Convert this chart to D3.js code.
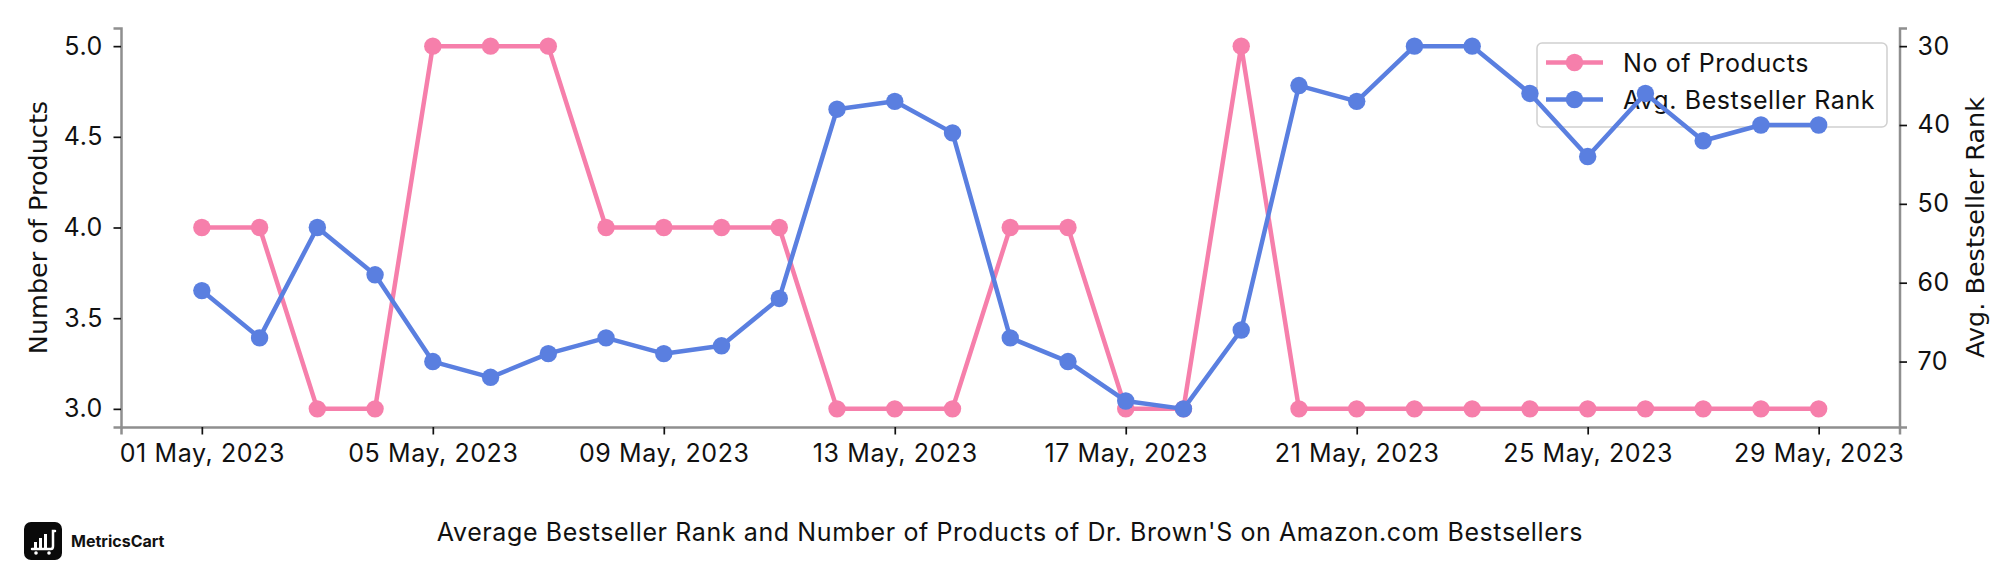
<!DOCTYPE html>
<html>
<head>
<meta charset="utf-8">
<script src="https://cdn.jsdelivr.net/npm/d3@7"></script>
<style>
  html, body { margin: 0; padding: 0; background: #fff; }
  svg { display: block; }
</style>
</head>
<body>
<svg id="chart" width="2016" height="576"></svg>
<script>
// ---- data ----
const dates = ["2023-05-01","2023-05-02","2023-05-03","2023-05-04","2023-05-05","2023-05-06","2023-05-07","2023-05-08","2023-05-09","2023-05-10","2023-05-11","2023-05-12","2023-05-13","2023-05-14","2023-05-15","2023-05-16","2023-05-17","2023-05-18","2023-05-19","2023-05-20","2023-05-21","2023-05-22","2023-05-23","2023-05-24","2023-05-25","2023-05-26","2023-05-27","2023-05-28","2023-05-29"];
const noOfProducts = [4,4,3,3,5,5,5,4,4,4,4,3,3,3,4,4,3,3,5,3,3,3,3,3,3,3,3,3,3];
const avgRank = [61,67,53,59,70,72,69,67,69,68,62,38,37,41,67,70,75,76,66,35,37,30,30,36,44,36,42,40,40];
const leftTicks = [3.0, 3.5, 4.0, 4.5, 5.0];
const rightTicks = [30, 40, 50, 60, 70];
const xTickDates = ["2023-05-01","2023-05-05","2023-05-09","2023-05-13","2023-05-17","2023-05-21","2023-05-25","2023-05-29"];
const seriesNames = ["No of Products", "Avg. Bestseller Rank"];
const titleText = "Average Bestseller Rank and Number of Products of Dr. Brown'S on Amazon.com Bestsellers";

// ---- style ----
const pink = "#f67fab";
const blue = "#5a7fe0";
const spineColor = "#8f8f8f";
const tickFont = "Inter, 'Open Sans', sans-serif";
const labelFont = "'DejaVu Sans', sans-serif";
const fs = "25px", ls = "0.6px";
const lw = 4.5, mr = 8.7;

const parse = d3.utcParse("%Y-%m-%d");
const data = dates.map((d, i) => ({ date: parse(d), n: noOfProducts[i], r: avgRank[i] }));

const svg = d3.select("#chart");
const plot = { left: 121, right: 1899.5, top: 28, bottom: 427 };

// matplotlib-like 5% margins
function padded(lo, hi) { const m = (hi - lo) * 0.05; return [lo - m, hi + m]; }
const d0 = data[0].date, d1 = data[data.length - 1].date;
const span = d1 - d0;
const x = d3.scaleUtc()
  .domain([new Date(+d0 - span * 0.05), new Date(+d1 + span * 0.05)])
  .range([plot.left, plot.right]);
const yL = d3.scaleLinear()
  .domain(padded(d3.min(noOfProducts), d3.max(noOfProducts)))
  .range([plot.bottom, plot.top]);
const rDom = padded(d3.min(avgRank), d3.max(avgRank));
const yR = d3.scaleLinear()
  .domain([rDom[1], rDom[0]])   // inverted: best rank at top
  .range([plot.bottom, plot.top]);

// ---- axes ----
const fmt = d3.utcFormat("%d %b, %Y");
const xAxis = d3.axisBottom(x)
  .tickValues(xTickDates.map(parse))
  .tickFormat(fmt)
  .tickSize(7.5).tickPadding(10.5);
const gx = svg.append("g").attr("transform", `translate(0,${plot.bottom})`).call(xAxis);

const yAxisL = d3.axisLeft(yL).tickValues(leftTicks).tickFormat(d3.format(".1f")).tickSize(7.5).tickPadding(10.5);
const gyl = svg.append("g").attr("transform", `translate(${plot.left},0)`).call(yAxisL);

const yAxisR = d3.axisRight(yR).tickValues(rightTicks).tickFormat(d3.format("d")).tickSize(7.5).tickPadding(10.5);
const gyr = svg.append("g").attr("transform", `translate(${plot.right},0)`).call(yAxisR);

[gx, gyl, gyr].forEach(g => {
  g.select(".domain").attr("stroke", spineColor).attr("stroke-width", 2.5);
  g.selectAll(".tick line").attr("stroke", "#111").attr("stroke-width", 1.7);
  g.selectAll(".tick text").attr("fill", "#111").style("font-family", tickFont)
    .style("font-size", fs).style("letter-spacing", ls);
});
gx.selectAll(".tick text").attr("dy", "0.68em");

// axis labels
svg.append("text")
  .attr("transform", `translate(47,${(plot.top + plot.bottom) / 2}) rotate(-90)`)
  .attr("text-anchor", "middle")
  .style("font-family", labelFont).style("font-size", "25.5px").attr("fill", "#111")
  .text("Number of Products");
svg.append("text")
  .attr("transform", `translate(1984,${(plot.top + plot.bottom) / 2}) rotate(-90)`)
  .attr("text-anchor", "middle")
  .style("font-family", labelFont).style("font-size", "25.5px").attr("fill", "#111")
  .text("Avg. Bestseller Rank");

// ---- pink series (left axis) ----
const lineN = d3.line().x(d => x(d.date)).y(d => yL(d.n));
svg.append("path").datum(data).attr("d", lineN)
  .attr("fill", "none").attr("stroke", pink).attr("stroke-width", lw).attr("stroke-linejoin", "round");
svg.append("g").selectAll("circle").data(data).join("circle")
  .attr("cx", d => x(d.date)).attr("cy", d => yL(d.n)).attr("r", mr).attr("fill", pink);

// ---- legend (belongs to left axes, drawn below twin axes) ----
const lg = svg.append("g").attr("transform", "translate(1537,43)");
lg.append("rect").attr("width", 350).attr("height", 84).attr("rx", 5)
  .attr("fill", "#fff").attr("fill-opacity", 0.8).attr("stroke", "#d0d0d0").attr("stroke-width", 1.5);
[pink, blue].forEach((c, i) => {
  const yy = 19.5 + i * 37;
  lg.append("line").attr("x1", 9).attr("x2", 66).attr("y1", yy).attr("y2", yy)
    .attr("stroke", c).attr("stroke-width", lw);
  lg.append("circle").attr("cx", 37.5).attr("cy", yy).attr("r", mr).attr("fill", c);
  lg.append("text").attr("x", 86).attr("y", yy).attr("dy", "0.36em")
    .style("font-family", tickFont).style("font-size", fs).style("letter-spacing", ls).attr("fill", "#111")
    .text(seriesNames[i]);
});

// ---- blue series (right axis, twin drawn on top) ----
const lineR = d3.line().x(d => x(d.date)).y(d => yR(d.r));
svg.append("path").datum(data).attr("d", lineR)
  .attr("fill", "none").attr("stroke", blue).attr("stroke-width", lw).attr("stroke-linejoin", "round");
svg.append("g").selectAll("circle").data(data).join("circle")
  .attr("cx", d => x(d.date)).attr("cy", d => yR(d.r)).attr("r", mr).attr("fill", blue);

// ---- title ----
svg.append("text").attr("x", 1010).attr("y", 541).attr("text-anchor", "middle")
  .style("font-family", tickFont).style("font-size", fs).style("letter-spacing", ls).attr("fill", "#111")
  .text(titleText);

// ---- logo ----
const logo = svg.append("g").attr("transform", "translate(24,522)");
logo.append("rect").attr("width", 38).attr("height", 38).attr("rx", 7).attr("fill", "#0a0a0a");
const bars = [[10, 20], [15, 16], [20, 12]];
bars.forEach(b => logo.append("rect").attr("x", b[0]).attr("y", b[1]).attr("width", 3).attr("height", 27 - b[1]).attr("fill", "#fff"));
logo.append("path").attr("d", "M8,27 L27,27 Q29,27 29,24 L29,9 L31,9")
  .attr("fill", "none").attr("stroke", "#fff").attr("stroke-width", 2.5).attr("stroke-linecap", "round");
logo.append("circle").attr("cx", 12).attr("cy", 31).attr("r", 1.8).attr("fill", "#fff");
logo.append("circle").attr("cx", 25).attr("cy", 31).attr("r", 1.8).attr("fill", "#fff");
svg.append("text").attr("x", 71).attr("y", 547)
  .style("font-family", tickFont).style("font-size", "16px").style("font-weight", "700").attr("fill", "#111")
  .text("MetricsCart");
</script>
</body>
</html>
